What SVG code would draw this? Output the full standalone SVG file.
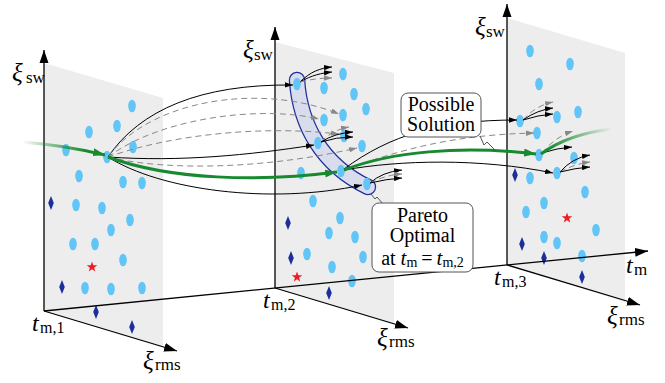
<svg xmlns="http://www.w3.org/2000/svg" xmlns:xlink="http://www.w3.org/1999/xlink" width="665" height="383" viewBox="0 0 665 383">
<style>
.panel{fill:#ededed;stroke:none}
.axis{stroke:#000;stroke-width:1.3;fill:none}
.sol{stroke:#000;stroke-width:1;fill:none;marker-end:url(#ab)}
.das{stroke:#888;stroke-width:1;fill:none;stroke-dasharray:6 4;marker-end:url(#ag)}
.grn{stroke:#178a2f;stroke-width:3;fill:none}
.box{fill:#fff;stroke:#555;stroke-width:1}
.ptr{fill:none;stroke:#555;stroke-width:1}
text{font-family:"Liberation Serif","Times New Roman",serif;fill:#000}
.it{font-style:italic}
.dot{fill:#62c5f8}
.dia{fill:#1c2e9c}
.star{fill:#ee1c24}
</style>
<defs>
<marker id="ax" markerWidth="14" markerHeight="10" refX="13" refY="5" orient="auto" markerUnits="userSpaceOnUse"><path d="M0,0.5 L13,5 L0,9.5 Z" fill="#000"/></marker>
<marker id="ab" markerWidth="9" markerHeight="6" refX="8" refY="3" orient="auto" markerUnits="userSpaceOnUse"><path d="M0,0.3 L8,3 L0,5.7 Z" fill="#000"/></marker>
<marker id="ag" markerWidth="9" markerHeight="6" refX="8" refY="3" orient="auto" markerUnits="userSpaceOnUse"><path d="M0,0.3 L8,3 L0,5.7 Z" fill="#888"/></marker>
<marker id="agr" markerWidth="13" markerHeight="9" refX="12" refY="4.5" orient="auto" markerUnits="userSpaceOnUse"><path d="M0,0.5 L12,4.5 L0,8.5 Z" fill="#178a2f"/></marker>
<linearGradient id="fadeIn" gradientUnits="userSpaceOnUse" x1="22" y1="0" x2="85" y2="0"><stop offset="0" stop-color="#178a2f" stop-opacity="0"/><stop offset="1" stop-color="#178a2f" stop-opacity="1"/></linearGradient>
<linearGradient id="fadeOut" gradientUnits="userSpaceOnUse" x1="548" y1="0" x2="612" y2="0"><stop offset="0" stop-color="#178a2f" stop-opacity="1"/><stop offset="1" stop-color="#178a2f" stop-opacity="0"/></linearGradient>
<ellipse id="d" class="dot" cx="0" cy="0" rx="3.8" ry="6.3"/>
<path id="m" class="dia" d="M0,-7 L2.8,0 L0,7 L-2.8,0 Z"/>
<polygon id="s" class="star" points="0,-5.5 1.29,-1.78 5.23,-1.7 2.09,0.68 3.23,4.45 0,2.2 -3.23,4.45 -2.09,0.68 -5.23,-1.7 -1.29,-1.78"/>
</defs>

<g id="panel1">
<polygon class="panel" points="44,63 163,98 163,348 44,311"/>
<use href="#d" x="132" y="106"/><use href="#d" x="117" y="126"/><use href="#d" x="89" y="132"/><use href="#d" x="66" y="150"/>
<use href="#d" x="107" y="157"/><use href="#d" x="133" y="147"/><use href="#d" x="79" y="176"/><use href="#d" x="123" y="182"/>
<use href="#d" x="142" y="183"/><use href="#d" x="76" y="205"/><use href="#d" x="102" y="208"/><use href="#d" x="130" y="220"/>
<use href="#d" x="111" y="230"/><use href="#d" x="73" y="244"/><use href="#d" x="95" y="244"/><use href="#d" x="123" y="260"/>
<use href="#d" x="85" y="288"/><use href="#d" x="111" y="289"/><use href="#d" x="142" y="288"/>
<use href="#m" x="51" y="203"/><use href="#m" x="62" y="287"/><use href="#m" x="96" y="312"/><use href="#m" x="132" y="327"/>
<use href="#s" x="92" y="267"/>
<line class="axis" x1="44" y1="311" x2="44" y2="50" marker-end="url(#ax)"/>
<line class="axis" x1="44" y1="311" x2="177" y2="351" marker-end="url(#ax)"/>
<text x="12" y="81" class="it" font-size="25">ξ</text><text x="26" y="83" font-size="17">sw</text>
<text x="32" y="331" class="it" font-size="24">t</text><text x="40" y="333" font-size="16">m,1</text>
<text x="143" y="369" class="it" font-size="25">ξ</text><text x="155" y="370" font-size="17">rms</text>
</g>

<g id="panel2">
<polygon class="panel" points="275,42 394,73 394,325 275,288"/>
<g id="pareto-set">
<path d="M297,80 C300,125 322,165 368,187" fill="none" stroke="#1f2f9a" stroke-width="16.5" stroke-linecap="round"/>
<path d="M297,80 C300,125 322,165 368,187" fill="none" stroke="#d9dcec" stroke-width="14" stroke-linecap="round"/>
</g>
<use href="#d" x="297" y="84"/><use href="#d" x="324" y="88"/><use href="#d" x="343" y="74"/><use href="#d" x="354" y="94"/>
<use href="#d" x="366" y="109"/><use href="#d" x="343" y="115"/><use href="#d" x="324" y="120"/><use href="#d" x="344" y="136"/>
<use href="#d" x="318" y="143"/><use href="#d" x="362" y="146"/><use href="#d" x="301" y="173"/><use href="#d" x="341" y="171"/>
<use href="#d" x="367" y="184"/><use href="#d" x="313" y="201"/><use href="#d" x="340" y="218"/><use href="#d" x="329" y="233"/>
<use href="#d" x="355" y="237"/><use href="#d" x="307" y="254"/><use href="#d" x="332" y="267"/><use href="#d" x="363" y="257"/>
<use href="#d" x="352" y="281"/>
<use href="#m" x="288" y="223"/><use href="#m" x="291" y="258"/><use href="#m" x="329" y="293"/>
<use href="#s" x="297" y="277"/>
<line class="axis" x1="275" y1="288" x2="275" y2="27" marker-end="url(#ax)"/>
<line class="axis" x1="275" y1="288" x2="408" y2="328" marker-end="url(#ax)"/>
<text x="243" y="58" class="it" font-size="25">ξ</text><text x="254" y="60" font-size="17">sw</text>
<text x="263" y="308" class="it" font-size="24">t</text><text x="271" y="310" font-size="16">m,2</text>
<text x="377" y="346" class="it" font-size="25">ξ</text><text x="389" y="347" font-size="17">rms</text>
</g>

<g id="panel3">
<polygon class="panel" points="507,18 625,53 625,302 507,265"/>
<use href="#d" x="530" y="51"/><use href="#d" x="570" y="64"/><use href="#d" x="539" y="84"/><use href="#d" x="578" y="112"/>
<use href="#d" x="557" y="117"/><use href="#d" x="520" y="121"/><use href="#d" x="537" y="133"/><use href="#d" x="539" y="155"/>
<use href="#d" x="574" y="158"/><use href="#d" x="557" y="173"/><use href="#d" x="530" y="178"/><use href="#d" x="585" y="192"/>
<use href="#d" x="544" y="203"/><use href="#d" x="526" y="212"/><use href="#d" x="596" y="230"/><use href="#d" x="544" y="237"/>
<use href="#d" x="557" y="243"/><use href="#d" x="582" y="256"/>
<use href="#m" x="515" y="175"/><use href="#m" x="522" y="244"/><use href="#m" x="544" y="258"/><use href="#m" x="582" y="277"/>
<use href="#s" x="567" y="218"/>
<line class="axis" x1="507" y1="265" x2="507" y2="4" marker-end="url(#ax)"/>
<line class="axis" x1="507" y1="265" x2="640" y2="305" marker-end="url(#ax)"/>
<text x="475" y="35" class="it" font-size="25">ξ</text><text x="486" y="37" font-size="17">sw</text>
<text x="494" y="285" class="it" font-size="24">t</text><text x="502" y="287" font-size="16">m,3</text>
<text x="607" y="324" class="it" font-size="25">ξ</text><text x="619" y="325" font-size="17">rms</text>
</g>

<g id="time-axis">
<line class="axis" x1="44" y1="311" x2="648" y2="251" marker-end="url(#ax)"/>
<text x="626" y="273" class="it" font-size="24">t</text><text x="634" y="275" font-size="17">m</text>
</g>

<g id="connectors">
<path d="M22,142 C50,144 80,149 105,155" style="fill:none;stroke:url(#fadeIn);stroke-width:3" marker-end="url(#agr)"/>
<path class="sol" d="M108,157 C140,110 200,84 293,85"/>
<path class="das" d="M108,157 C150,100 260,82 339,114"/>
<path class="das" d="M108,157 C160,118 260,105 319,119"/>
<path class="das" d="M108,157 C170,135 260,125 339,134"/>
<path class="sol" d="M108,157 C180,162 250,155 314,145"/>
<path class="das" d="M108,157 C170,172 270,168 357,148"/>
<path class="sol" d="M108,157 C160,190 270,205 362,185"/>
<path class="grn" d="M108,157 C170,180 260,182 337,172" marker-end="url(#agr)"/>

<path class="sol" d="M300,82 C310,72 320,68 332,67"/>
<path class="sol" d="M300,82 C312,75 322,73 332,72"/>
<path class="das" d="M300,82 C312,79 322,78 332,78"/>
<path class="das" d="M321,142 Q332,130 349,127"/>
<path class="sol" d="M321,142 Q335,133 353,132"/>
<path class="sol" d="M321,142 Q336,137 353,137"/>
<path class="sol" d="M370,183 Q382,172 402,170"/>
<path class="das" d="M370,183 Q385,175 402,174"/>
<path class="sol" d="M370,183 Q386,179 402,178"/>

<path class="sol" d="M344,169 C390,135 440,120 517,120"/>
<path class="das" d="M344,170 C400,150 450,135 534,133"/>
<path class="sol" d="M344,170 C400,160 480,158 553,173"/>
<path class="grn" d="M344,170 C390,152 460,145 536,154" marker-end="url(#agr)"/>

<path class="das" d="M523,120 Q535,106 553,102"/>
<path class="sol" d="M523,120 Q537,110 553,108"/>
<path class="sol" d="M523,120 Q538,115 553,114"/>
<path class="das" d="M542,153 Q555,137 573,131"/>
<path class="sol" d="M542,153 Q557,148 572,147"/>
<path d="M541,154 C560,140 585,132 612,129" style="fill:none;stroke:url(#fadeOut);stroke-width:3"/>
<path class="sol" d="M560,172 Q572,158 590,155"/>
<path class="das" d="M560,172 Q574,164 590,162"/>
<path class="sol" d="M560,172 Q575,168 590,167"/>
</g>

<g id="callout-possible">
<polyline class="ptr" points="480,136 484,145 487,142 496,151"/>
<rect class="box" x="401" y="93" width="80" height="44" rx="7"/>
<text x="441" y="111" font-size="20" text-anchor="middle">Possible</text>
<text x="441" y="131" font-size="20" text-anchor="middle">Solution</text>
</g>

<g id="callout-pareto">
<polyline class="ptr" points="383,204 377,197 375,199 371,194"/>
<rect class="box" x="372" y="203" width="101" height="69" rx="7"/>
<text x="422.5" y="222" font-size="20" text-anchor="middle">Pareto</text>
<text x="422.5" y="242" font-size="20" text-anchor="middle">Optimal</text>
<text x="422.5" y="265" font-size="20" text-anchor="middle">at <tspan class="it" font-size="21">t</tspan><tspan font-size="14" dy="2">m</tspan><tspan dx="4" dy="-2">=</tspan><tspan class="it" font-size="21" dx="4">t</tspan><tspan font-size="14" dy="2">m,2</tspan></text>
</g>
</svg>
